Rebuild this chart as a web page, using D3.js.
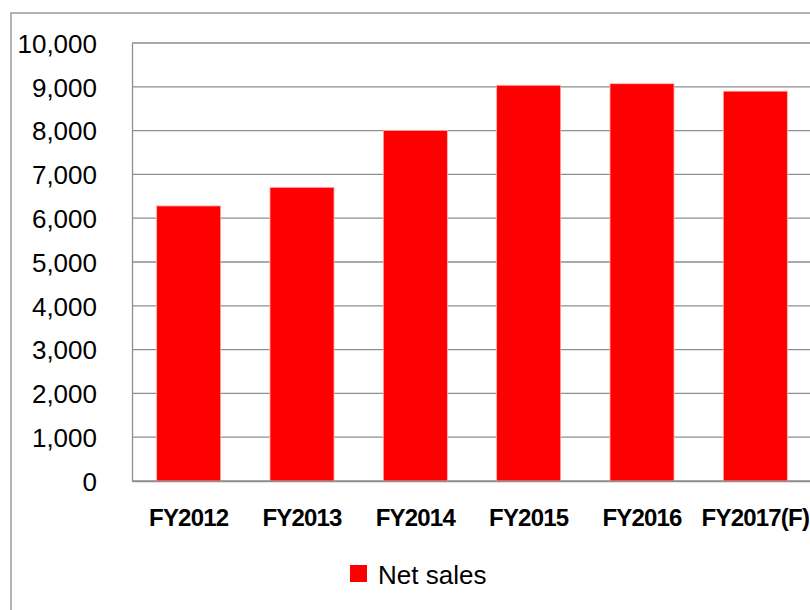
<!DOCTYPE html>
<html><head><meta charset="utf-8">
<script src="https://cdn.jsdelivr.net/npm/d3@7"></script>
<style>body{margin:0;background:#fff}svg{display:block}</style>
</head><body>
<script>
const categories = ["FY2012","FY2013","FY2014","FY2015","FY2016","FY2017(F)"];
const netSales = [6280, 6705, 8000, 9035, 9070, 8900];
const yTicks = [0,1000,2000,3000,4000,5000,6000,7000,8000,9000,10000];
const seriesName = "Net sales";

const W = 810, H = 610;
const svg = d3.select("body").append("svg").attr("width", W).attr("height", H);

// outer border
svg.append("rect").attr("x", 11).attr("y", 13).attr("width", 900).attr("height", 700)
  .attr("fill", "#fff").attr("stroke", "#8c8c8c").attr("stroke-width", 1.3);

const plotLeft = 132, plotTop = 43, plotBottom = 481, plotRight = 812;
const x = d3.scaleBand().domain(categories).range([plotLeft, plotRight]).paddingInner(0.435).paddingOuter(0.2175);
const y = d3.scaleLinear().domain([0, 10000]).range([plotBottom, plotTop]);

// gridlines
svg.append("g").selectAll("line").data(yTicks).join("line")
  .attr("x1", plotLeft).attr("x2", plotRight + 10)
  .attr("y1", d => y(d)).attr("y2", d => y(d))
  .attr("stroke", "#8e8e8e").attr("stroke-width", 1.3);

// bars
svg.append("g").selectAll("rect").data(netSales).join("rect")
  .attr("x", (d, i) => x(categories[i]))
  .attr("y", d => y(d))
  .attr("width", x.bandwidth())
  .attr("height", d => plotBottom - y(d))
  .attr("fill", "#ff0000").attr("stroke", "#ffb3b3").attr("stroke-width", 0.8);

// axes
const yAxis = d3.axisLeft(y).tickValues(yTicks).tickFormat(d3.format(",")).tickSize(0).tickPadding(35);
const gy = svg.append("g").attr("transform", `translate(${plotLeft},0)`).call(yAxis);
gy.select(".domain").attr("stroke", "#8e8e8e").attr("stroke-width", 1.3);
gy.selectAll("text").attr("font-family", "'Liberation Sans', Arial, sans-serif")
  .attr("font-size", 26).attr("fill", "#000").attr("dy", "0.36em");

const xAxis = d3.axisBottom(x).tickSize(0).tickPadding(28);
const gx = svg.append("g").attr("transform", `translate(0,${plotBottom})`).call(xAxis);
gx.select(".domain").attr("stroke", "#8e8e8e").attr("stroke-width", 1.3);
gx.selectAll("text").attr("font-family", "'Liberation Sans', Arial, sans-serif")
  .attr("font-weight", "bold").attr("font-size", 24).attr("fill", "#000")
  .attr("letter-spacing", "-0.8");

// legend
const lg = svg.append("g");
lg.append("rect").attr("x", 350).attr("y", 565).attr("width", 17).attr("height", 17).attr("fill", "#ff0000");
lg.append("text").attr("x", 378).attr("y", 584).text(seriesName)
  .attr("font-family", "'Liberation Sans', Arial, sans-serif").attr("font-size", 26).attr("fill", "#000");
</script>
</body></html>
